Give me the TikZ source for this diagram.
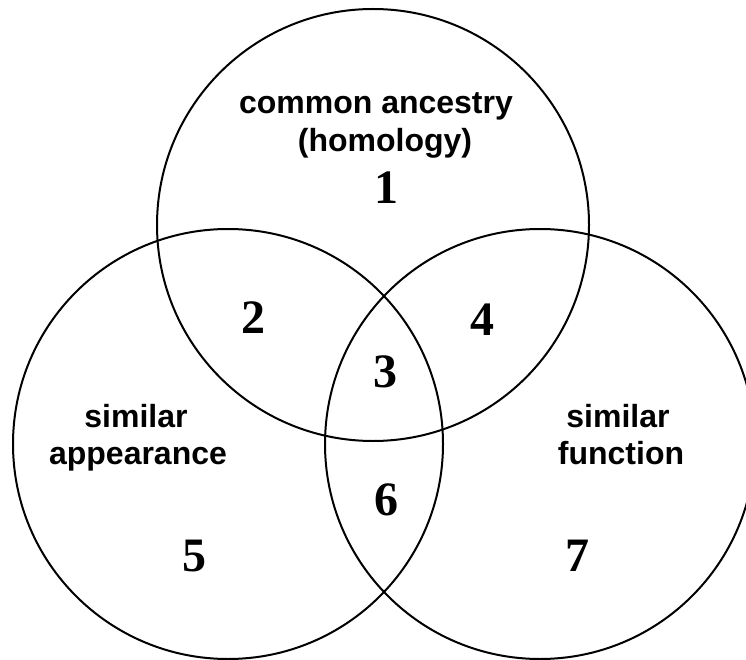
\documentclass[tikz,border=0pt]{standalone}
\usepackage{fontspec}
\setmainfont{Liberation Serif}
\newfontfamily\labelfont{Liberation Sans}
\begin{document}
\begin{tikzpicture}[x=1pt,y=-1pt,
  ring/.style={draw=black,line width=2pt},
  lbl/.style={font=\labelfont\bfseries\fontsize{32}{38}\selectfont,inner sep=0pt,anchor=base},
  num/.style={font=\bfseries\fontsize{48}{56}\selectfont,inner sep=0pt,anchor=center}]
\useasboundingbox (0,0) rectangle (746,660);
\clip (0,0) rectangle (746,660);
\coordinate (ctop) at (373,225);
\coordinate (cleft) at (228,444);
\coordinate (cright) at (540,444);
\draw[ring] (ctop) circle[radius=216];
\draw[ring] (cleft) circle[radius=215];
\draw[ring] (cright) circle[radius=215];
\node[lbl] (t1) at (376,114) {common ancestry};
\node[lbl] (t2) at (385,152) {(homology)};
\node[lbl] (l1) at (136,427) {similar};
\node[lbl] (l2) at (138,464) {appearance};
\node[lbl] (r1) at (618,427) {similar};
\node[lbl] (r2) at (621,464) {function};
\node[num] (n1) at (386,188) {1};
\node[num] (n2) at (253,318) {2};
\node[num] (n3) at (385,372) {3};
\node[num] (n4) at (482,320) {4};
\node[num] (n5) at (194,556) {5};
\node[num] (n6) at (386,500) {6};
\node[num] (n7) at (577,556) {7};
\end{tikzpicture}
\end{document}
